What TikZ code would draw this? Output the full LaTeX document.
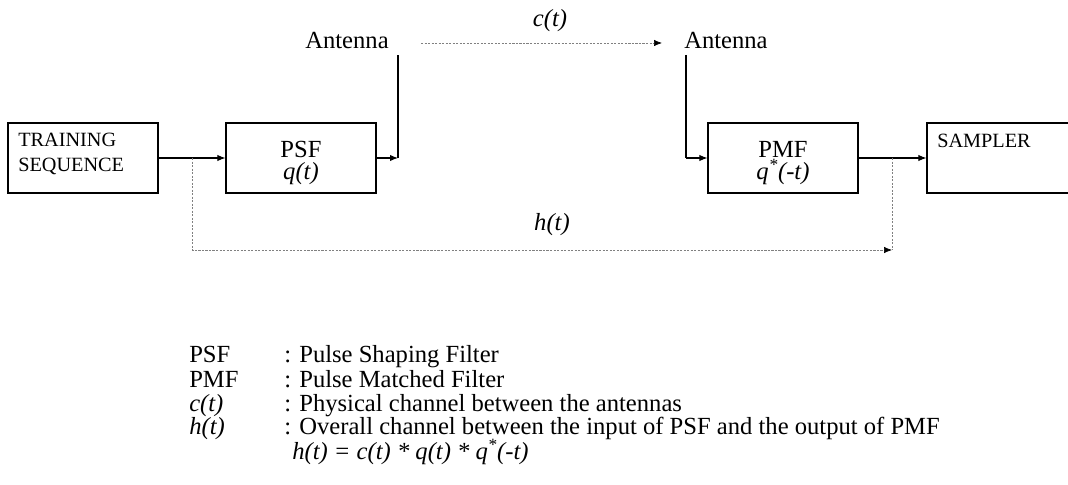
\documentclass[tikz,border=0pt]{standalone}
\usepackage{fontspec}
\setmainfont{Liberation Serif}
\usetikzlibrary{arrows.meta, positioning}

\begin{document}
\begin{tikzpicture}[x=0.025cm, y=-0.025cm,
    block/.style={draw, line width=0.8pt, minimum width=3.75cm, minimum height=1.75cm, inner sep=0pt},
    sig/.style={line width=0.75pt, -{Latex[length=2mm, width=1.6mm]}},
    wire/.style={line width=0.75pt},
    chan/.style={gray, line width=0.5pt, dash pattern=on 1.5pt off 1pt},
    chanarrow/.style={chan, -{Latex[length=2mm, width=1.6mm, color=black]}},
    big/.style={font=\fontsize{17.5}{15.6}\selectfont, inner sep=0pt},
    small/.style={font=\fontsize{14.4}{17.8}\selectfont, inner sep=0pt},
    legend/.style={font=\fontsize{17.5}{17}\selectfont, inner sep=0pt, anchor=base west,
                   text height=12pt, text depth=4pt}]
\useasboundingbox (0,0) rectangle (1068,485);

% blocks
\node[block] (train) at (83,158) {};
\node[small, anchor=base west] (trainname) at (18,147) {TRAINING\strut};
\node[small, anchor=base west, text height=9pt] (trainname2) at (18,172) {SEQUENCE};

\node[block] (psf) at (301,158) {};
\node[big, align=center] (psflbl) at (301,163) {PSF\\\textit{q(t)}};

\node[block] (pmf) at (783,158) {};
\node[big, align=center] (pmflbl) at (783,163) {PMF\\\textit{q\textsuperscript{*}(-t)}};

\node[block] (sampler) at (1002,158) {};
\node[small, anchor=base west] (samplername) at (937,148) {SAMPLER};

% antennas
\node[big, anchor=base] (txant) at (347,49) {Antenna};
\node[big, anchor=base west] (rxant) at (684,49) {Antenna};
\coordinate (txfeed) at (398,158);
\coordinate (txtop) at (398,55);
\coordinate (rxtop) at (686,55);
\coordinate (rxfeed) at (686,158);

% signal path
\draw[sig] (train.east) -- (psf.west);
\draw[sig] (psf.east) -- (txfeed);
\draw[wire] (txfeed) -- (txtop);
\draw[wire] (rxtop) -- (rxfeed);
\draw[sig] (rxfeed) -- (pmf.west);
\draw[sig] (pmf.east) -- (sampler.west);

% physical channel
\coordinate (cstart) at (421,43);
\coordinate (cend) at (662,43);
\draw[chanarrow] (cstart) -- (cend);
\node[big, anchor=base] (clabel) at (550,27) {\textit{c(t)}};

% overall channel
\coordinate (tap) at (192,158);
\coordinate (tapdown) at (192,250);
\coordinate (outtap) at (892,158);
\coordinate (outdown) at (892,250);
\draw[chanarrow] (tap) -- (tapdown) -- (outdown);
\draw[chan] (outtap) -- (outdown);
\node[big, anchor=base] (hlabel) at (552,231) {\textit{h(t)}};

% legend
\node[legend] (k1) at (189,363) {PSF};
\node[legend] (v1) at (284,363) {: Pulse Shaping Filter};
\node[legend] (k2) at (189,387) {PMF};
\node[legend] (v2) at (284,387) {: Pulse Matched Filter};
\node[legend] (k3) at (189,411) {\textit{c(t)}};
\node[legend] (v3) at (284,411) {: Physical channel between the antennas};
\node[legend] (k4) at (189,435) {\textit{h(t)}};
\node[legend] (v4) at (284,435) {: Overall channel between the input of PSF and the output of PMF};
\node[legend] (v5) at (292,459) {\textit{h(t) = c(t) * q(t) * q\textsuperscript{*}(-t)}};

\end{tikzpicture}
\end{document}
